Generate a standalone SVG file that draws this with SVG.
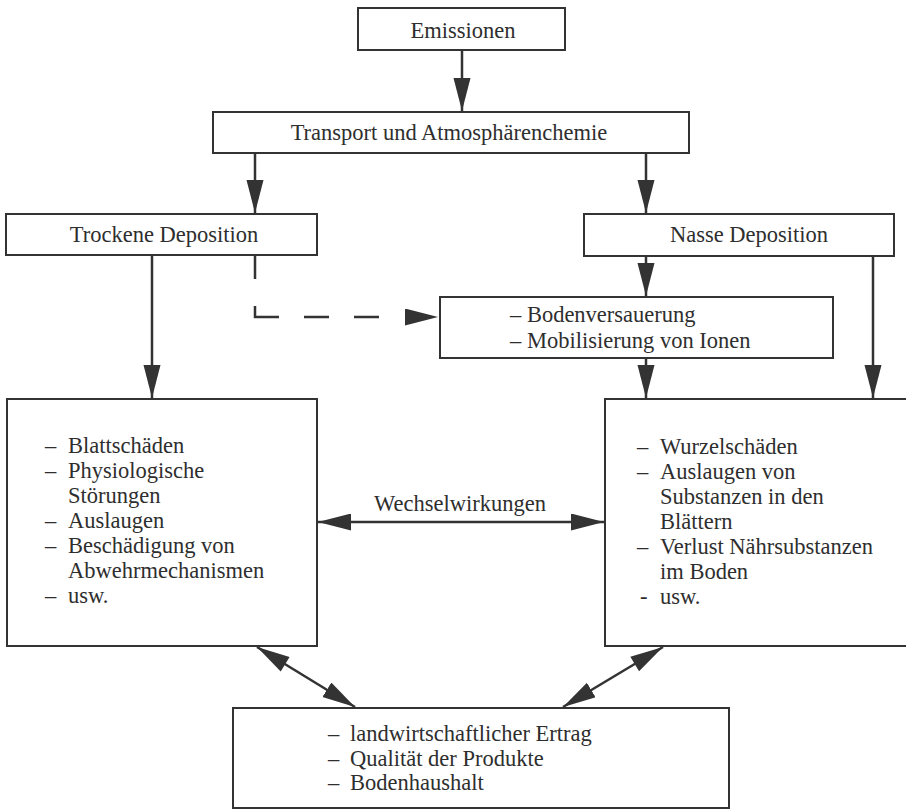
<svg xmlns="http://www.w3.org/2000/svg" width="906" height="810" viewBox="0 0 906 810">
<style>
.box{fill:#fff;stroke:#333;stroke-width:2}
.t{font-family:"Liberation Serif","Times New Roman",serif;font-size:22.5px;fill:#2e2e2e}
.m{text-anchor:middle}
.c{fill:none;stroke:#333;stroke-width:2.5}
.d{stroke-dasharray:23 27 35 25 25 25 25 200}
</style>
<defs>
<marker id="ah" markerUnits="userSpaceOnUse" markerWidth="35" markerHeight="18" refX="33" refY="8.5" orient="auto">
<path d="M0,0 L33,8.5 L0,17 z" fill="#333"/>
</marker>
<marker id="as" markerUnits="userSpaceOnUse" markerWidth="35" markerHeight="18" refX="0" refY="8.5" orient="auto">
<path d="M33,0 L0,8.5 L33,17 z" fill="#333"/>
</marker>
</defs>
<rect x="0" y="0" width="906" height="810" fill="#fff"/>
<g id="connectors">
<line class="c" x1="462" y1="50" x2="462" y2="111" marker-end="url(#ah)"/>
<line class="c" x1="255" y1="153" x2="255" y2="213" marker-end="url(#ah)"/>
<line class="c" x1="646" y1="153" x2="646" y2="213" marker-end="url(#ah)"/>
<line class="c" x1="152" y1="256" x2="152" y2="398" marker-end="url(#ah)"/>
<line class="c" x1="646" y1="256" x2="646" y2="296" marker-end="url(#ah)"/>
<line class="c" x1="646" y1="358" x2="646" y2="398" marker-end="url(#ah)"/>
<line class="c" x1="873" y1="256" x2="873" y2="398" marker-end="url(#ah)"/>
<path class="c d" d="M255,256 V317 H438" marker-end="url(#ah)"/>
<line class="c" x1="318" y1="522" x2="604" y2="522" marker-start="url(#as)" marker-end="url(#ah)"/>
<line class="c" x1="257" y1="647" x2="355" y2="707" marker-start="url(#as)" marker-end="url(#ah)"/>
<line class="c" x1="663" y1="647" x2="563" y2="707" marker-start="url(#as)" marker-end="url(#ah)"/>
<text class="t m" x="460" y="511">Wechselwirkungen</text>
</g>
<g id="emissionen">
<rect class="box" x="358" y="8" width="207" height="42"/>
<text class="t m" x="463" y="38">Emissionen</text>
</g>
<g id="transport">
<rect class="box" x="213" y="112" width="476" height="41"/>
<text class="t m" x="449" y="140">Transport und Atmosphärenchemie</text>
</g>
<g id="trockene">
<rect class="box" x="6" y="214" width="311" height="41"/>
<text class="t m" x="164" y="242">Trockene Deposition</text>
</g>
<g id="nasse">
<rect class="box" x="584" y="214" width="310" height="42"/>
<text class="t m" x="749" y="242">Nasse Deposition</text>
</g>
<g id="boden">
<rect class="box" x="440" y="297" width="393" height="61"/>
<text class="t" x="510" y="322">– Bodenversauerung</text>
<text class="t" x="510" y="348">– Mobilisierung von Ionen</text>
</g>
<g id="links">
<rect class="box" x="7" y="399" width="310" height="247"/>
<text class="t" x="45" y="453">–</text><text class="t" x="68" y="453">Blattschäden</text>
<text class="t" x="45" y="478">–</text><text class="t" x="68" y="478">Physiologische</text>
<text class="t" x="68" y="503">Störungen</text>
<text class="t" x="45" y="528">–</text><text class="t" x="68" y="528">Auslaugen</text>
<text class="t" x="45" y="553">–</text><text class="t" x="68" y="553">Beschädigung von</text>
<text class="t" x="68" y="578">Abwehrmechanismen</text>
<text class="t" x="45" y="603">–</text><text class="t" x="68" y="603">usw.</text>
</g>
<g id="rechts">
<rect class="box" x="605" y="399" width="310" height="247"/>
<text class="t" x="637" y="454">–</text><text class="t" x="660" y="454">Wurzelschäden</text>
<text class="t" x="637" y="479">–</text><text class="t" x="660" y="479">Auslaugen von</text>
<text class="t" x="660" y="504">Substanzen in den</text>
<text class="t" x="660" y="529">Blättern</text>
<text class="t" x="637" y="554">–</text><text class="t" x="660" y="554">Verlust Nährsubstanzen</text>
<text class="t" x="660" y="579">im Boden</text>
<text class="t" x="640" y="604">-</text><text class="t" x="660" y="604">usw.</text>
</g>
<g id="ertrag">
<rect class="box" x="233" y="708" width="496" height="100"/>
<text class="t" x="328" y="741">–</text><text class="t" x="350" y="741">landwirtschaftlicher Ertrag</text>
<text class="t" x="328" y="766">–</text><text class="t" x="350" y="766">Qualität der Produkte</text>
<text class="t" x="328" y="790">–</text><text class="t" x="350" y="790">Bodenhaushalt</text>
</g>
</svg>
